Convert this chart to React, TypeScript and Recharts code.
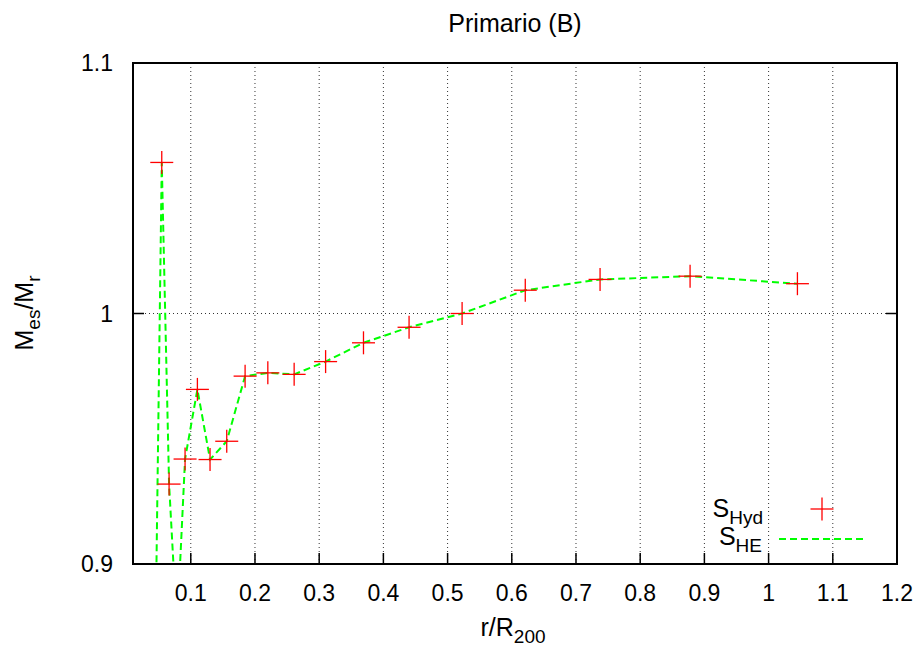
import React from 'react';
import { ComposedChart, XAxis, YAxis, CartesianGrid, Scatter, Line, Legend } from 'recharts';

const FONT = '"Liberation Sans", Arial, Helvetica, sans-serif';

// S_Hyd (red crosses)
const hydX = [0.0548, 0.0662, 0.0911, 0.1103, 0.130, 0.156, 0.1846, 0.220, 0.261, 0.310, 0.369, 0.440, 0.5226, 0.621, 0.7375, 0.8777, 1.0449];
const hydY = [1.0603, 0.9319, 0.9419, 0.9697, 0.9417, 0.949, 0.975, 0.9763, 0.9757, 0.9808, 0.9883, 0.9945, 1.0, 1.0093, 1.0136, 1.0149, 1.0119];

// S_HE (green dashed line)
const heX = [0.045, 0.0548, 0.0662, 0.0785, 0.0911, 0.1103, 0.130, 0.156, 0.1846, 0.220, 0.261, 0.310, 0.369, 0.440, 0.5226, 0.621, 0.7375, 0.8777, 1.0449];
const heY = [0.87, 1.0603, 0.9319, 0.874, 0.9419, 0.9697, 0.9417, 0.949, 0.975, 0.9763, 0.9757, 0.9808, 0.9883, 0.9945, 1.0, 1.0093, 1.0136, 1.0149, 1.0119];

const xTicks = [0.1, 0.2, 0.3, 0.4, 0.5, 0.6, 0.7, 0.8, 0.9, 1, 1.1, 1.2];
const yTicks = [0.9, 1, 1.1];

const seriesNames = [
  { main: 'S', sub: 'Hyd' },
  { main: 'S', sub: 'HE' },
];

const title = 'Primario (B)';

const hydData = hydX.map((x, i) => ({ x, y: hydY[i] }));
const heData = heX.map((x, i) => ({ x, y: heY[i] }));

const RED = '#ff0000';
const GREEN = '#00ff00';

const BottomTick = (props: any) => {
  const { x, y, payload } = props;
  return (
    <g>
      <line x1={x} y1={y} x2={x} y2={y - 11} stroke="#000" strokeWidth={1.5} />
      <text x={x} y={y + 37} textAnchor="middle" fontSize={23} fontFamily={FONT} fill="#000">
        {String(payload.value)}
      </text>
    </g>
  );
};

const TopTick = (props: any) => {
  const { x, y } = props;
  return <line x1={x} y1={y} x2={x} y2={y + 11} stroke="#000" strokeWidth={1.5} />;
};

const LeftTick = (props: any) => {
  const { x, y, payload } = props;
  return (
    <g>
      <line x1={x} y1={y} x2={x + 11} y2={y} stroke="#000" strokeWidth={1.5} />
      <text x={x - 20} y={y + 8} textAnchor="end" fontSize={23} fontFamily={FONT} fill="#000">
        {String(payload.value)}
      </text>
    </g>
  );
};

const RightTick = (props: any) => {
  const { x, y } = props;
  return <line x1={x} y1={y} x2={x - 11} y2={y} stroke="#000" strokeWidth={1.5} />;
};

const Plus = (props: any) => {
  const { cx, cy } = props;
  const h = 11.5;
  return (
    <g>
      <line x1={cx - h} y1={cy} x2={cx + h} y2={cy} stroke={RED} strokeWidth={1.3} />
      <line x1={cx} y1={cy - h} x2={cx} y2={cy + h} stroke={RED} strokeWidth={1.3} />
    </g>
  );
};

const TitleLabel = () => (
  <text x={515} y={32} textAnchor="middle" fontSize={25} fontFamily={FONT} fill="#000">
    {title}
  </text>
);

const XLabel = () => (
  <text x={513} y={636} textAnchor="middle" fontSize={25} fontFamily={FONT} fill="#000">
    r/R<tspan dy={7} fontSize={19}>200</tspan>
  </text>
);

const YLabel = () => (
  <text
    x={33}
    y={313}
    transform="rotate(-90, 33, 313)"
    textAnchor="middle"
    fontSize={25}
    fontFamily={FONT}
    fill="#000"
  >
    M<tspan dy={7} fontSize={19}>es</tspan>
    <tspan dy={-7} fontSize={25}>/M</tspan>
    <tspan dy={7} fontSize={19}>r</tspan>
  </text>
);

const LegendContent = () => (
  <svg width={920} height={646} style={{ position: 'absolute', left: 0, top: 0, pointerEvents: 'none' }}>
    <text x={763} y={517} textAnchor="end" fontSize={25} fontFamily={FONT} fill="#000">
      {seriesNames[0].main}
      <tspan dy={7} fontSize={19}>{seriesNames[0].sub}</tspan>
    </text>
    <line x1={810.5} y1={509} x2={833.5} y2={509} stroke={RED} strokeWidth={1.3} />
    <line x1={822} y1={497.5} x2={822} y2={520.5} stroke={RED} strokeWidth={1.3} />
    <text x={762} y={545} textAnchor="end" fontSize={25} fontFamily={FONT} fill="#000">
      {seriesNames[1].main}
      <tspan dy={7} fontSize={19}>{seriesNames[1].sub}</tspan>
    </text>
    <line x1={779} y1={539} x2={865} y2={539} stroke={GREEN} strokeWidth={2} strokeDasharray="7 4" />
  </svg>
);

const axisLine = { stroke: '#000', strokeWidth: 2, strokeLinecap: 'square' as const };

export default function App() {
  return (
    <div style={{ position: 'absolute', left: 0, top: 0, width: 920, height: 646, background: '#fff' }}>
      <ComposedChart width={920} height={646} margin={{ top: 0, right: 0, bottom: 0, left: 0 }}>
        <CartesianGrid
          xAxisId="main"
          yAxisId="main"
          stroke="#333"
          strokeDasharray="1 3"
          strokeWidth={1}
        />
        <XAxis
          xAxisId="main"
          dataKey="x"
          type="number"
          scale="linear"
          domain={[0.01, 1.2]}
          allowDataOverflow
          ticks={xTicks}
          interval={0}
          orientation="bottom"
          height={82}
          tickSize={0}
          tickMargin={0}
          tickLine={false}
          axisLine={axisLine}
          tick={<BottomTick />}
          label={XLabel}
        />
        <XAxis
          xAxisId="top"
          type="number"
          scale="linear"
          domain={[0.01, 1.2]}
          allowDataOverflow
          ticks={xTicks}
          interval={0}
          orientation="top"
          height={63}
          tickSize={0}
          tickMargin={0}
          tickLine={false}
          axisLine={axisLine}
          tick={<TopTick />}
          label={TitleLabel}
        />
        <YAxis
          yAxisId="main"
          dataKey="y"
          type="number"
          scale="linear"
          domain={[0.9, 1.1]}
          allowDataOverflow
          ticks={yTicks}
          interval={0}
          orientation="left"
          width={133}
          tickSize={0}
          tickMargin={0}
          tickLine={false}
          axisLine={axisLine}
          tick={<LeftTick />}
          label={YLabel}
        />
        <YAxis
          yAxisId="right"
          type="number"
          scale="linear"
          domain={[0.9, 1.1]}
          allowDataOverflow
          ticks={yTicks}
          interval={0}
          orientation="right"
          width={23}
          tickSize={0}
          tickMargin={0}
          tickLine={false}
          axisLine={axisLine}
          tick={<RightTick />}
        />
        <Line
          xAxisId="main"
          yAxisId="main"
          data={heData}
          dataKey="y"
          name="S_HE"
          type="linear"
          stroke={GREEN}
          strokeWidth={2}
          strokeDasharray="7 4"
          dot={false}
          activeDot={false}
          isAnimationActive={false}
        />
        <Scatter
          xAxisId="main"
          yAxisId="main"
          data={hydData}
          dataKey="y"
          name="S_Hyd"
          fill={RED}
          shape={<Plus />}
          isAnimationActive={false}
        />
        <Legend
          layout="horizontal"
          verticalAlign="middle"
          align="center"
          content={<LegendContent />}
          wrapperStyle={{ position: 'absolute', left: 0, top: 0, width: 920, height: 646, margin: 0, padding: 0 }}
        />
      </ComposedChart>
    </div>
  );
}
